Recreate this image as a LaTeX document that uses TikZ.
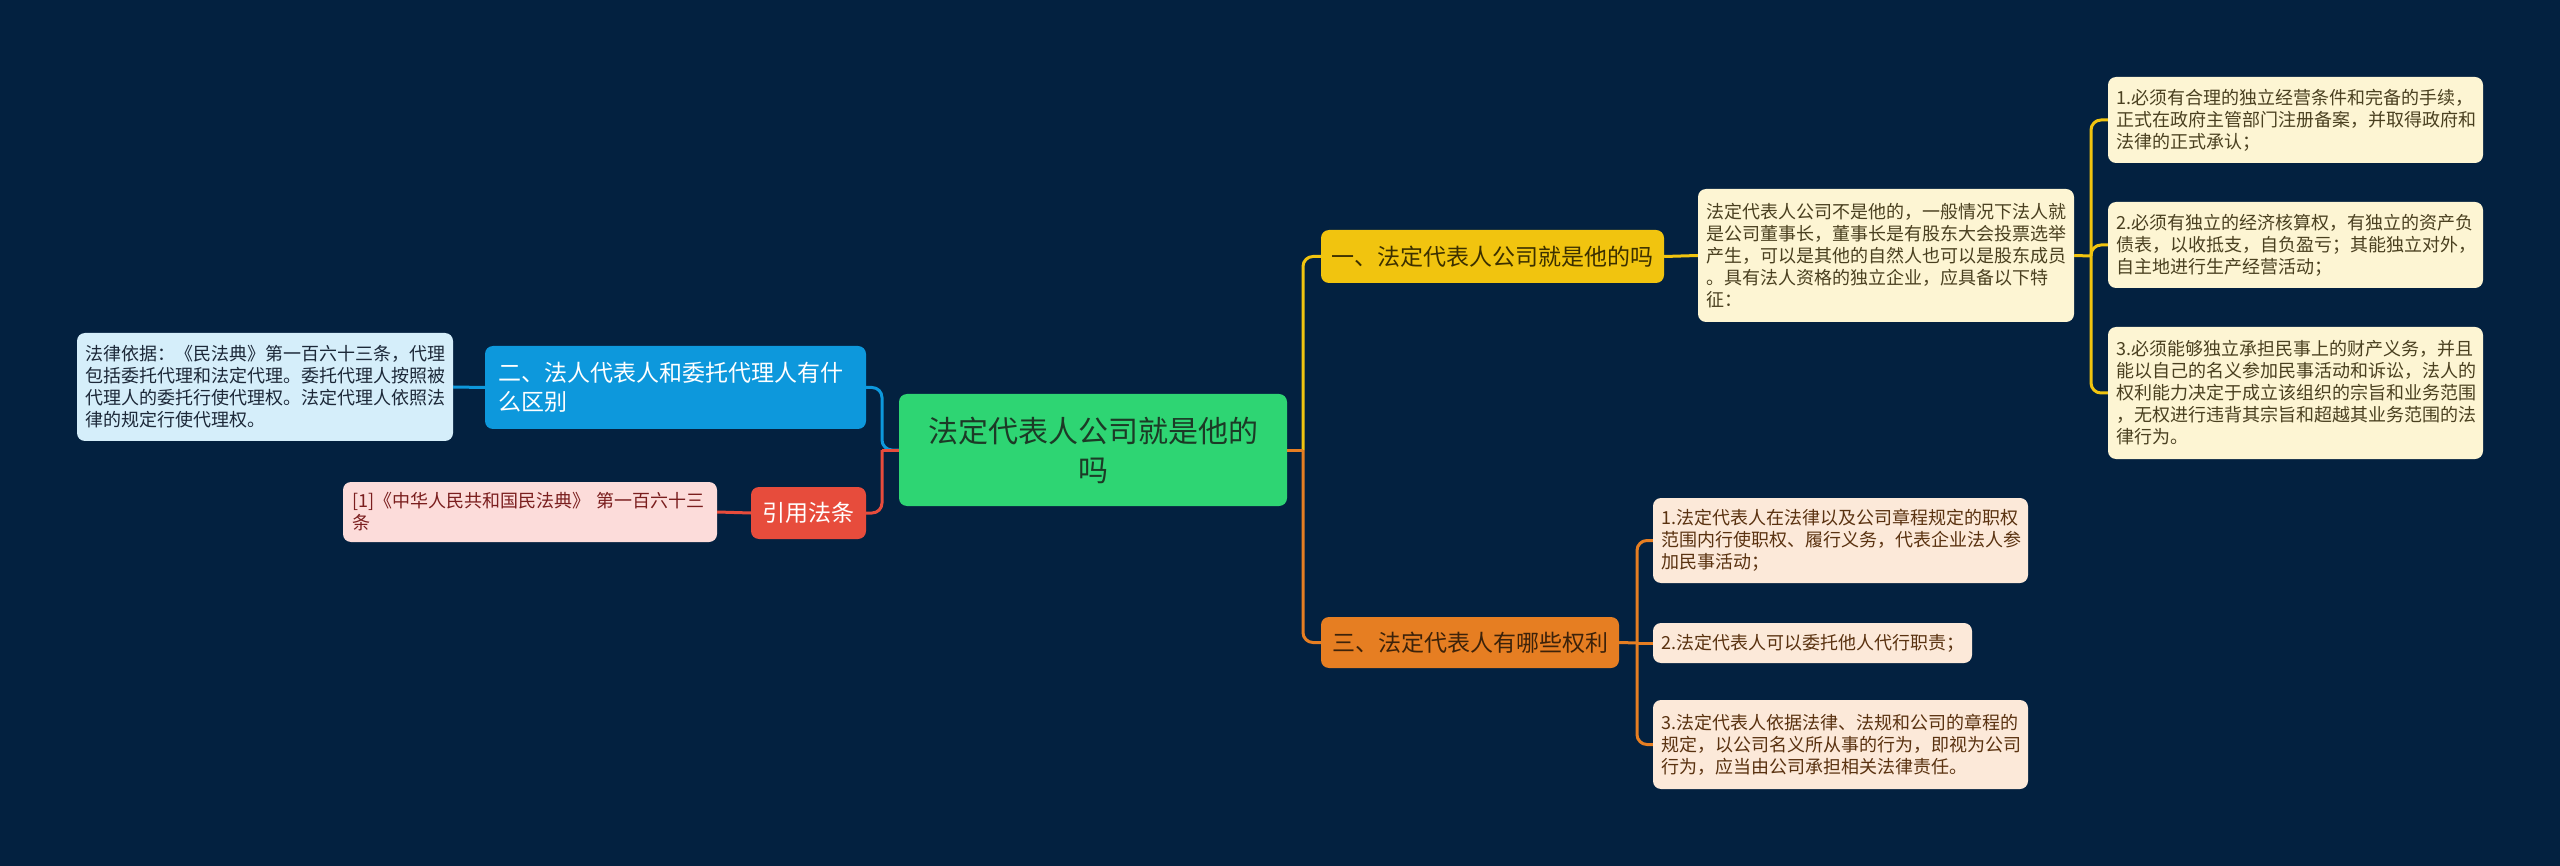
\documentclass[tikz,border=0pt]{standalone}
\usepackage{fontspec}
\setmainfont{Noto Sans CJK SC}
\definecolor{bg}{RGB}{3,33,64}
\definecolor{cgreen}{RGB}{46,213,115}
\definecolor{ctext}{RGB}{28,58,38}
\definecolor{cblue}{RGB}{13,152,220}
\definecolor{lblue}{RGB}{213,238,250}
\definecolor{lbtext}{RGB}{28,40,56}
\definecolor{cred}{RGB}{231,76,60}
\definecolor{lpink}{RGB}{252,220,218}
\definecolor{pktext}{RGB}{122,30,30}
\definecolor{cyel}{RGB}{241,196,15}
\definecolor{yltext}{RGB}{60,48,0}
\definecolor{lyel}{RGB}{253,245,211}
\definecolor{lytext}{RGB}{74,64,32}
\definecolor{corg}{RGB}{230,126,34}
\definecolor{ortext}{RGB}{60,34,10}
\definecolor{lorg}{RGB}{252,233,217}
\definecolor{lotext}{RGB}{90,50,16}
\begin{document}
\begin{tikzpicture}[x=1pt,y=-1pt,
  box/.style={rounded corners=8pt, inner xsep=8pt, inner ysep=0pt, align=left, anchor=center},
  detail/.style={box, font=\fontsize{18}{22}\selectfont, text width=#1},
  detail/.default=360pt,
  branch/.style={box, font=\fontsize{23}{29}\selectfont, align=center, inner xsep=10pt},
  conn/.style={line width=3pt, rounded corners=10pt}]
\useasboundingbox (0,0) rectangle (2560,866);
\fill[bg] (0,0) rectangle (2560,866);

% center
\node[box, fill=cgreen, text=ctext, align=center, font=\fontsize{30}{39}\selectfont,
  text width=368pt, inner xsep=10pt, minimum height=112pt] (c) at (1093,450)
  {法定代表人公司就是他的\\吗};

% left side
\node[box, fill=cblue, text=white, font=\fontsize{23}{29}\selectfont,
  text width=355pt, inner xsep=13pt, minimum height=83pt] (b2) at (675.5,387.5)
  {二、法人代表人和委托代理人有什\\么区别};
\node[detail, fill=lblue, text=lbtext, minimum height=108pt] (b2d) at (265,387)
  {法律依据：《民法典》第一百六十三条，代理\\包括委托代理和法定代理。委托代理人按照被\\代理人的委托行使代理权。法定代理人依照法\\律的规定行使代理权。};
\node[branch, fill=cred, text=white, minimum width=115pt, minimum height=52pt] (rf) at (808.5,513) {引用法条};
\node[detail=356pt, fill=lpink, text=pktext, minimum height=60pt, inner xsep=9pt] (rfd) at (530,512)
  {[1]《中华人民共和国民法典》 第一百六十三\\条};

% right upper
\node[branch, fill=cyel, text=yltext, minimum width=343pt, minimum height=53pt] (b1) at (1492.5,256.5)
  {一、法定代表人公司就是他的吗};
\node[detail, fill=lyel, text=lytext, minimum height=133pt] (b1d) at (1886,255.5)
  {法定代表人公司不是他的，一般情况下法人就\\是公司董事长，董事长是有股东大会投票选举\\产生，可以是其他的自然人也可以是股东成员\\。具有法人资格的独立企业，应具备以下特\\征：};
\node[detail=359pt, fill=lyel, text=lytext, minimum height=86pt] (y1) at (2295.5,120)
  {1.必须有合理的独立经营条件和完备的手续，\\正式在政府主管部门注册备案，并取得政府和\\法律的正式承认；};
\node[detail=359pt, fill=lyel, text=lytext, minimum height=86pt] (y2) at (2295.5,245)
  {2.必须有独立的经济核算权，有独立的资产负\\债表，以收抵支，自负盈亏；其能独立对外，\\自主地进行生产经营活动；};
\node[detail=359pt, fill=lyel, text=lytext, minimum height=132pt] (y3) at (2295.5,393)
  {3.必须能够独立承担民事上的财产义务，并且\\能以自己的名义参加民事活动和诉讼，法人的\\权利能力决定于成立该组织的宗旨和业务范围\\，无权进行违背其宗旨和超越其业务范围的法\\律行为。};

% right lower
\node[branch, fill=corg, text=ortext, minimum width=298pt, minimum height=51pt] (b3) at (1470,642.5)
  {三、法定代表人有哪些权利};
\node[detail=359pt, fill=lorg, text=lotext, minimum height=85pt] (o1) at (1840.5,540.5)
  {1.法定代表人在法律以及公司章程规定的职权\\范围内行使职权、履行义务，代表企业法人参\\加民事活动；};
\node[detail=303pt, fill=lorg, text=lotext, minimum height=40pt] (o2) at (1812.5,643)
  {2.法定代表人可以委托他人代行职责；};
\node[detail=359pt, fill=lorg, text=lotext, minimum height=89pt] (o3) at (1840.5,744.5)
  {3.法定代表人依据法律、法规和公司的章程的\\规定，以公司名义所从事的行为，即视为公司\\行为，应当由公司承担相关法律责任。};

% spine coordinates
\coordinate (sl) at (882,450);
\coordinate (sr) at (1303,450);
\coordinate (sy) at (2091,256);
\coordinate (so) at (1637,643);

% left connectors
\draw[conn, cblue] (c.west) -- (sl) |- (b2.east);
\draw[conn, cblue] (b2.west) -- (b2d.east);
\draw[line width=3pt, cred] (c.west) -- (sl);
\draw[conn, cred] (sl) |- (rf.east);
\draw[conn, cred] (rf.west) -- (rfd.east);

% right connectors
\draw[line width=3pt, cyel] (c.east) -- (sr);
\draw[conn, cyel] (sr) |- (b1.west);
\draw[line width=3pt, corg] (c.east) -- (sr);
\draw[conn, corg] (sr) |- (b3.west);

\draw[conn, cyel] (b1.east) -- (b1d.west);
\draw[line width=3pt, cyel] (b1d.east) -- (sy);
\draw[conn, cyel] (sy) |- (y1.west);
\draw[conn, cyel] (sy) |- (y2.west);
\draw[conn, cyel] (sy) |- (y3.west);

\draw[line width=3pt, corg] (b3.east) -- (so);
\draw[conn, corg] (so) |- (o1.west);
\draw[conn, corg] (so) -- (o2.west);
\draw[conn, corg] (so) |- (o3.west);
\end{tikzpicture}
\end{document}
